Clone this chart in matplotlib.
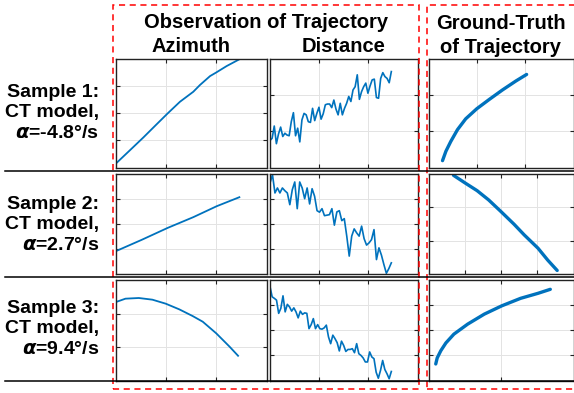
import matplotlib
matplotlib.use("Agg")
import matplotlib.pyplot as plt
from matplotlib.patches import Rectangle
from matplotlib.lines import Line2D
import numpy as np

plt.rcParams['font.family'] = ['Liberation Sans', 'DejaVu Sans']

# Row labels
row_labels = ["Sample 1:\nCT model,\n$\\boldsymbol{\\alpha}$=-4.8°/s",
              "Sample 2:\nCT model,\n$\\boldsymbol{\\alpha}$=2.7°/s",
              "Sample 3:\nCT model,\n$\\boldsymbol{\\alpha}$=9.4°/s"]

# Azimuth observations (time, value)
az_t = [[0, 6.5, 12.7, 18.9, 24.0, 29.7, 35.9, 39.0, 43.7, 46.5, 51.4, 57.3],
        [0, 11.9, 24.0, 35.9, 46.8, 57.3],
        [0, 4.4, 10.6, 16.9, 23.1, 29.4, 35.6, 40.3, 46.6, 52.8, 56.7]]
az_v = [[0.15, 0.64, 1.11, 1.60, 2.00, 2.43, 2.80, 3.05, 3.38, 3.51, 3.75, 4.00],
        [0.91, 1.36, 1.84, 2.27, 2.71, 3.07],
        [2.35, 2.45, 2.47, 2.42, 2.30, 2.13, 1.93, 1.76, 1.41, 1.01, 0.74]]

# Distance observations
dist_v = [
    [0.75, 0.81, 1.15, 0.66, 0.93, 1.12, 0.86, 0.95, 0.90, 0.88,
     1.27, 1.52, 0.88, 1.09, 0.71, 1.32, 1.50, 1.46, 1.27, 1.25,
     1.64, 1.30, 1.50, 1.67, 1.34, 1.49, 1.74, 1.76, 1.76, 1.66,
     1.87, 1.62, 1.46, 1.78, 1.46, 1.64, 1.78, 1.97, 1.83, 2.15,
     2.24, 2.57, 1.89, 2.10, 2.24, 2.34, 2.06, 2.26, 2.43, 2.45,
     1.94, 1.92, 2.47, 2.63, 2.52, 2.47, 2.35, 2.66],
    [3.64, 3.97, 3.24, 3.44, 3.24, 3.44, 3.33, 3.24, 2.77, 3.37,
     3.68, 2.61, 3.68, 3.44, 3.01, 3.44, 2.80, 3.41, 3.11, 2.53,
     2.47, 2.61, 2.33, 2.35, 2.37, 2.61, 1.95, 2.48, 2.53, 2.13,
     2.21, 1.51, 0.71, 1.51, 1.80, 1.64, 1.51, 1.91, 1.41, 1.15,
     1.24, 1.37, 1.77, 0.57, 1.04, 0.75, 0.37, 0.02, 0.21, 0.44],
    [3.75, 3.34, 3.28, 3.21, 2.68, 2.88, 3.38, 2.74, 3.04, 2.94,
     2.77, 2.90, 2.74, 2.50, 2.77, 2.64, 2.70, 2.68, 2.07, 2.23,
     2.47, 2.07, 2.23, 2.07, 2.05, 2.10, 2.21, 1.74, 1.47, 1.81,
     1.67, 1.51, 1.18, 1.57, 1.40, 1.16, 1.24, 1.24, 1.27, 1.11,
     1.47, 1.07, 1.00, 0.90, 0.74, 0.74, 1.14, 0.94, 0.87, 0.33,
     0.09, 0.40, 0.80, 0.44, 0.27, 0.07, 0.36]]

# Ground-truth trajectories (x, y)
gt_x = [[0.29, 0.36, 0.46, 0.60, 0.77, 1.00, 1.26, 1.53, 1.81, 2.03],
        [0.69, 1.01, 1.34, 1.66, 2.00, 2.36, 2.64, 3.02, 3.29, 3.55],
        [0.10, 0.12, 0.17, 0.24, 0.35, 0.54, 0.77, 1.01, 1.27, 1.51, 1.68]]
gt_y = [[0.19, 0.45, 0.72, 1.05, 1.35, 1.63, 1.89, 2.15, 2.40, 2.58],
        [2.96, 2.73, 2.50, 2.22, 1.87, 1.49, 1.17, 0.77, 0.41, 0.10],
        [0.66, 0.90, 1.19, 1.50, 1.85, 2.25, 2.65, 2.98, 3.28, 3.48, 3.64]]

# axis ranges (upper limit of each axis, ticks at every integer)
az_ymax = [4, 4, 3]
dist_ymax = [3, 4, 4]
gt_xmax = [3, 4, 2]
gt_ymax = [3, 3, 4]
t_max = 70

W, H = 574, 393
fig = plt.figure(figsize=(W / 100, H / 100), dpi=100)

blue = '#0072BD'
cols = [(116, 266.7), (270, 417.7), (428.5, 573.5)]
rows = [(59.3, 167.5), (174, 273.8), (280.3, 380.5)]


def make_ax(col, row):
    x0, x1 = cols[col]
    y0, y1 = rows[row]
    ax = fig.add_axes([x0 / W, 1 - y1 / H, (x1 - x0) / W, (y1 - y0) / H])
    ax.grid(True, color='#e3e3e3', lw=0.7)
    ax.set_axisbelow(True)
    ax.tick_params(direction='in', length=3, width=0.8, top=True, right=True,
                   labelleft=False, labelbottom=False, colors='#222222')
    for s in ax.spines.values():
        s.set_color('#222222')
        s.set_linewidth(1.0)
    return ax


for r in range(3):
    ax = make_ax(0, r)
    ax.plot(az_t[r], az_v[r], color=blue, lw=1.3)
    ax.set_xlim(0, t_max)
    ax.set_xticks([t_max / 3, 2 * t_max / 3])
    ax.set_ylim(0, az_ymax[r])
    ax.set_yticks(range(1, az_ymax[r]))

    ax = make_ax(1, r)
    t = np.linspace(0, 57.5, len(dist_v[r]))
    ax.plot(t, dist_v[r], color=blue, lw=1.2)
    ax.set_xlim(0, t_max)
    ax.set_xticks([t_max / 3, 2 * t_max / 3])
    ax.set_ylim(0, dist_ymax[r])
    ax.set_yticks(range(1, dist_ymax[r]))

    ax = make_ax(2, r)
    ax.plot(gt_x[r], gt_y[r], color=blue, lw=2.4, solid_capstyle='round',
            solid_joinstyle='round')
    ax.set_xlim(0, gt_xmax[r])
    ax.set_xticks(range(1, gt_xmax[r]))
    ax.set_ylim(0, gt_ymax[r])
    ax.set_yticks(range(1, gt_ymax[r]))

# row labels
row_cy = [113, 225, 329]
for lab, cy in zip(row_labels, row_cy):
    fig.text(99 / W, 1 - cy / H, lab, ha='right', va='center', ma='right',
             fontsize=14, fontweight='bold', linespacing=1.3)

# column titles
fig.text(266 / W, 1 - 22 / H, "Observation of Trajectory", ha='center',
         va='center', fontsize=14.5, fontweight='bold')
fig.text(191 / W, 1 - 47 / H, "Azimuth", ha='center', va='center',
         fontsize=14.5, fontweight='bold')
fig.text(344 / W, 1 - 47 / H, "Distance", ha='center', va='center',
         fontsize=14.5, fontweight='bold')
fig.text(501 / W, 1 - 35.5 / H, "Ground-Truth\nof Trajectory", ha='center',
         va='center', fontsize=14.5, fontweight='bold', linespacing=1.3)

# row separators
for y in [171.5, 276.7, 381]:
    fig.add_artist(Line2D([5 / W, 1], [1 - y / H, 1 - y / H], color='black',
                          lw=1.1, transform=fig.transFigure))

# dashed red boxes
for x0, x1 in [(112.7, 419.3), (426.7, 580)]:
    fig.add_artist(Rectangle((x0 / W, 1 - 389 / H), (x1 - x0) / W, 384 / H,
                             fill=False, ec='#ff0000', lw=1.1, ls=(0, (4, 3)),
                             transform=fig.transFigure))

fig.savefig('out.png', dpi=100)
